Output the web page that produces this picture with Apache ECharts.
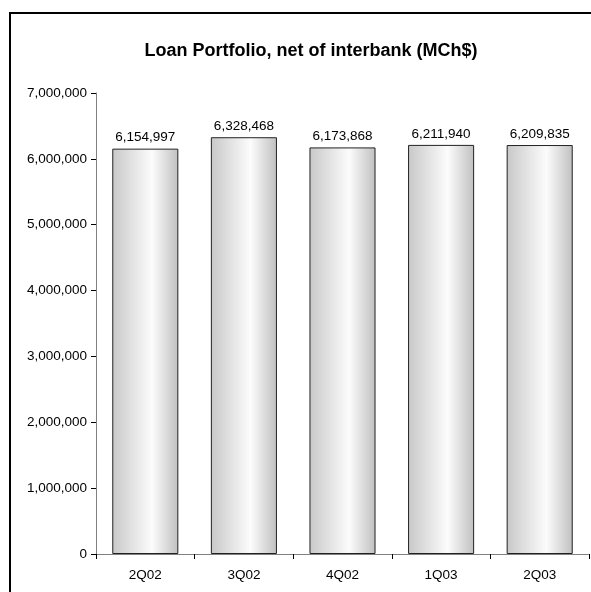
<!DOCTYPE html>
<html><head><meta charset="utf-8">
<script src="https://cdn.jsdelivr.net/npm/echarts@6/dist/echarts.min.js"></script>
<style>html,body{margin:0;padding:0;background:#fff}#c{width:591px;height:592px}</style>
</head><body><div id="c"></div>
<script>
const categories = ['2Q02','3Q02','4Q02','1Q03','2Q03'];
const values = [6154997, 6328468, 6173868, 6211940, 6209835];
const titleText = 'Loan Portfolio, net of interbank (MCh$)';

const chart = echarts.init(document.getElementById('c'), null, {renderer:'canvas'});
const fmt = v => v.toLocaleString('en-US');
chart.setOption({
  animation:false,
  textStyle:{fontFamily:'Liberation Sans, Arial, sans-serif'},
  title:{text:titleText,left:306,top:37,textAlign:'center',
    textStyle:{fontSize:18,fontWeight:'bold',color:'#000',fontFamily:'Liberation Sans, Arial, sans-serif'}},
  graphic:[{type:'rect',shape:{x:10,y:13,width:700,height:700},style:{fill:'none',stroke:'#000',lineWidth:2},silent:true}],
  grid:{left:96,right:2,top:93,bottom:38},
  xAxis:{type:'category',data:categories,
    axisLine:{lineStyle:{color:'#808080',width:1}},
    axisTick:{show:true,length:5,lineStyle:{color:'#000'}},
    axisLabel:{color:'#000',fontSize:13.5,margin:14}},
  yAxis:{type:'value',min:0,max:7000000,interval:1000000,
    axisLine:{show:true,lineStyle:{color:'#808080'}},
    axisTick:{show:true,length:5,lineStyle:{color:'#000'}},
    splitLine:{show:false},
    axisLabel:{color:'#000',fontSize:13.5,margin:9,formatter:fmt}},
  series:[{type:'bar',data:values,barCategoryGap:'33%',
    itemStyle:{borderColor:'#222',borderWidth:1,
      color:new echarts.graphic.LinearGradient(0,0,1,0,[
        {offset:0,color:'#c8c8c8'},{offset:0.6,color:'#fcfcfc'},{offset:1,color:'#c0c0c0'}])},
    label:{show:true,position:'top',distance:4,color:'#000',fontSize:13.5,formatter:p=>fmt(p.value)}}]
});
</script></body></html>
